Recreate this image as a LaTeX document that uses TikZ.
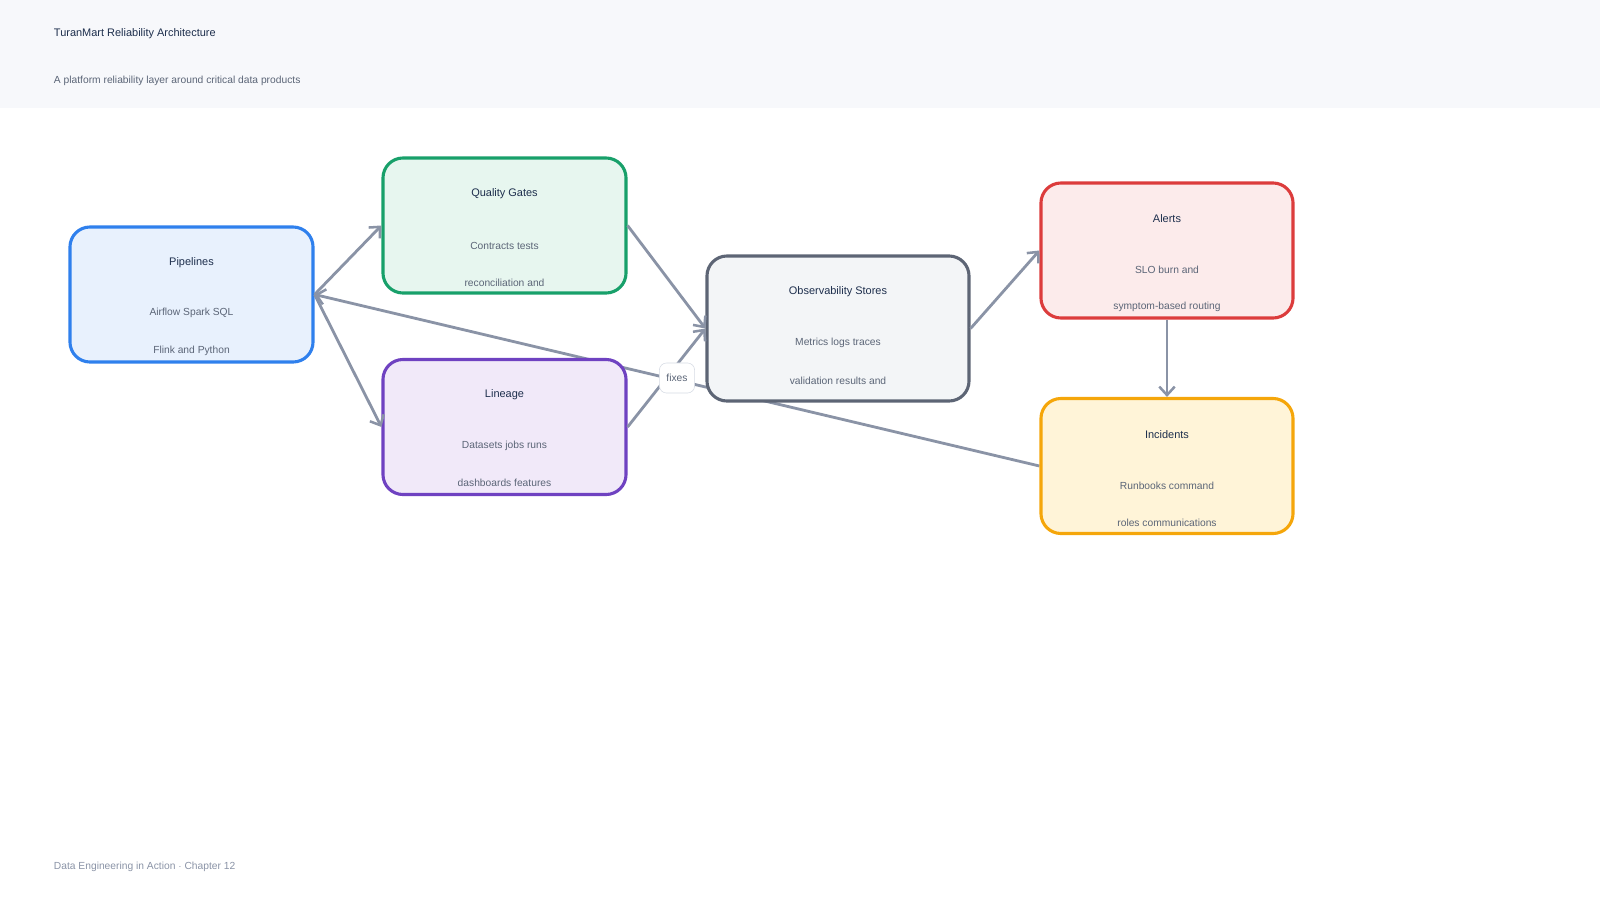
\documentclass[tikz,border=0pt]{standalone}
\usepackage{fontspec}
\setmainfont{Liberation Sans}
\usetikzlibrary{arrows.meta,positioning,backgrounds}
\definecolor{ink}{HTML}{1E2F4D}
\definecolor{muted}{HTML}{5B6577}
\definecolor{edge}{HTML}{8A93A6}
\definecolor{band}{HTML}{F7F8FB}
\tikzset{
  card/.style={draw, line width=2.2pt, rounded corners=0.5cm, minimum width=6.075cm, minimum height=3.375cm},
  head/.style={font=\fontsize{7.8}{9}\selectfont, text=ink},
  body/.style={font=\fontsize{7.3}{9}\selectfont, text=muted},
  flow/.style={draw=edge, line width=2pt, -{Straight Barb[length=6pt,width=11pt,line width=1.8pt]}}
}
\begin{document}
\begin{tikzpicture}[x=0.025cm, y=-0.025cm]
    \useasboundingbox (0, 0) rectangle (1600, 920);
    \fill[band](0, 0) rectangle (1600, 108);
    \node[head, anchor=west] (title) at (49, 34){TuranMart Reliability Architecture};
    \node[body, anchor=west] (sub) at (49, 81){A platform reliability layer around critical data products};
    \node[body, anchor=west, text=edge] (foot) at (49, 867){Data Engineering in Action $\cdot$ Chapter 12};
    % boxes
    \node[card, draw={rgb,255:red,47;green,128;blue,237}, fill={rgb,255:red,232;green,241;blue,253}] (pipe) at (191.5, 294.5){};
    \node[card, draw={rgb,255:red,24;green,160;blue,106}, fill={rgb,255:red,231;green,246;blue,239}] (gates) at (504.5, 225.5){};
    \node[card, draw={rgb,255:red,111;green,66;blue,193}, fill={rgb,255:red,241;green,233;blue,249}] (lineage) at (504.5, 427){};
    \node[card, draw={rgb,255:red,93;green,101;blue,117}, fill={rgb,255:red,243;green,245;blue,247}, minimum width=6.55cm, minimum height=3.625cm] (obs) at (838, 328.5){};
    \node[card, draw={rgb,255:red,220;green,60;blue,60}, fill={rgb,255:red,252;green,235;blue,235}, minimum width=6.3cm] (alerts) at (1167, 250.5){};
    \node[card, draw={rgb,255:red,245;green,166;blue,10}, fill={rgb,255:red,255;green,244;blue,216}, minimum width=6.3cm] (inc) at (1167, 466){};
    % connectors
    \draw[flow] (pipe.east) -- (gates.west);
    \draw[flow] (pipe.east) -- (lineage.west);
    \draw[flow] (gates.east) -- (obs.west);
    \draw[flow] (lineage.east) -- (obs.west);
    \draw[flow] (obs.east) -- (alerts.west);
    \draw[flow] (alerts.south) -- (inc.north);
    \begin{scope}[on background layer]
        \draw[flow] (inc.west) -- (pipe.east);
    \end{scope}
    \node[body, fill=white, draw={rgb,255:red,214;green,219;blue,228}, rounded corners=5pt, inner sep=5pt, minimum height=0.75cm] (fix) at (677, 378){fixes};
    % texts
    \node[head] (pipeT) at (191.5, 263){Pipelines};
    \node[body] (pipeA) at (191.5, 313){Airflow Spark SQL};
    \node[body] (pipeB) at (191.5, 351){Flink and Python};
    \node[head] (gatesT) at (504.5, 194){Quality Gates};
    \node[body] (gatesA) at (504.5, 246){Contracts tests};
    \node[body] (gatesB) at (504.5, 283){reconciliation and};
    \node[head] (linT) at (504.5, 395){Lineage};
    \node[body] (linA) at (504.5, 446){Datasets jobs runs};
    \node[body] (linB) at (504.5, 483){dashboards features};
    \node[head] (obsT) at (838, 292){Observability Stores};
    \node[body] (obsA) at (838, 343){Metrics logs traces};
    \node[body] (obsB) at (838, 381){validation results and};
    \node[head] (alT) at (1167, 219){Alerts};
    \node[body] (alA) at (1167, 270){SLO burn and};
    \node[body] (alB) at (1167, 307){symptom-based routing};
    \node[head] (incT) at (1167, 435){Incidents};
    \node[body] (incA) at (1167, 486){Runbooks command};
    \node[body] (incB) at (1167, 523){roles communications};
\end{tikzpicture}
\end{document}
